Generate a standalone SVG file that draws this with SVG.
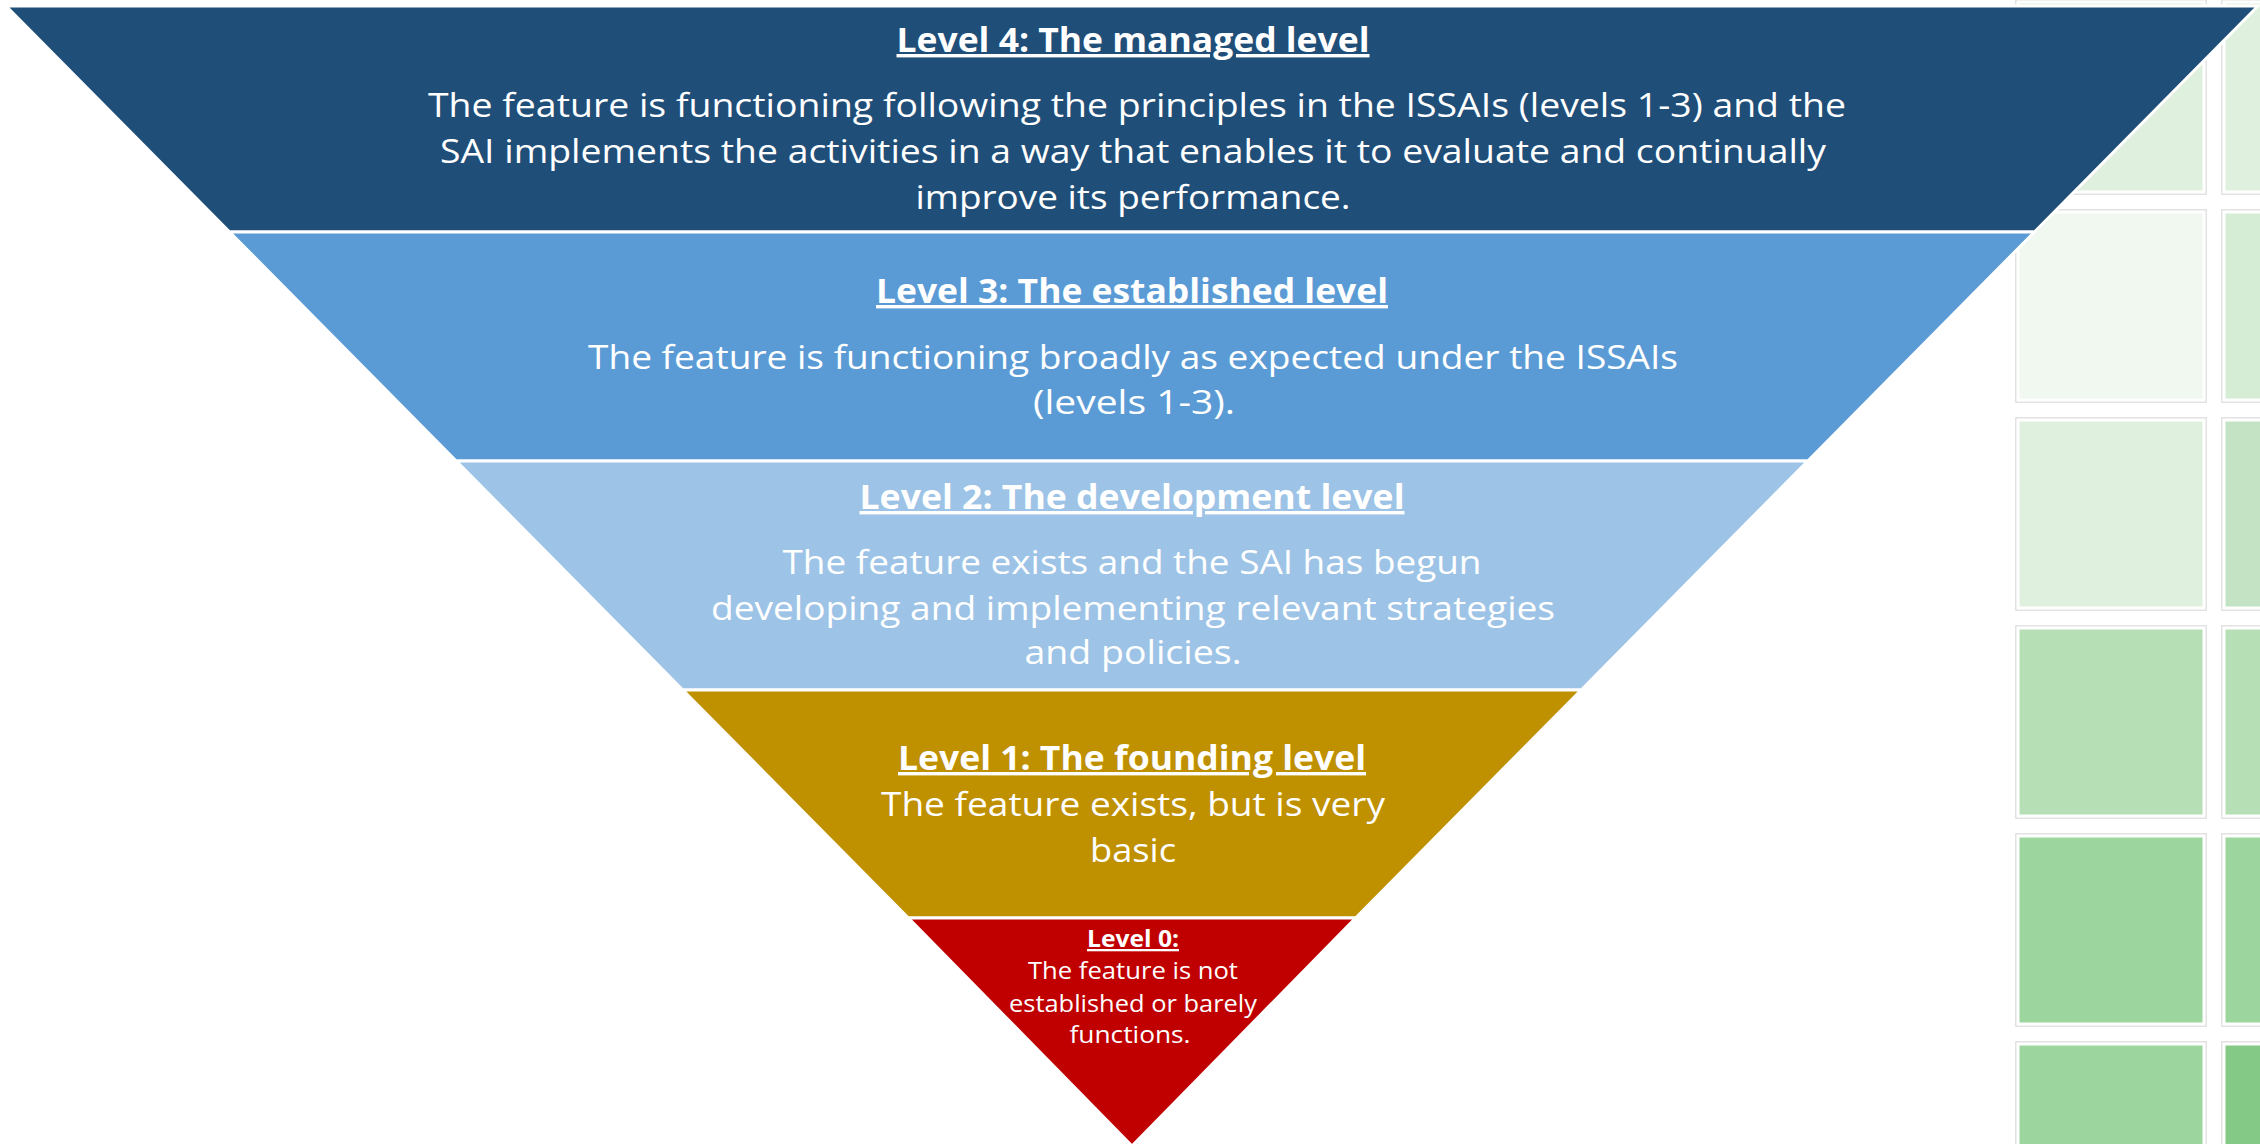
<svg xmlns="http://www.w3.org/2000/svg" width="2260" height="1144" viewBox="0 0 2260 1144">
  <style>
    .band { stroke: #ffffff; stroke-width: 3; stroke-linejoin: miter; }
    .cell { stroke: #ffffff; stroke-width: 3; }
    .cellframe { fill: none; stroke: #d9d9d9; stroke-width: 1.5; }
    .title { font-family: "Open Sans", "Noto Sans", "Liberation Sans", sans-serif; font-weight: bold; font-size: 34px; fill: #ffffff; text-anchor: middle; text-decoration: underline; }
    .body { font-family: "Open Sans", "Noto Sans", "Liberation Sans", sans-serif; font-size: 33px; fill: #ffffff; text-anchor: middle; }
    .title0 { font-family: "Open Sans", "Noto Sans", "Liberation Sans", sans-serif; font-weight: bold; font-size: 23px; fill: #ffffff; text-anchor: middle; text-decoration: underline; }
    .body0 { font-family: "Open Sans", "Noto Sans", "Liberation Sans", sans-serif; font-size: 23px; fill: #ffffff; text-anchor: middle; }
  </style>

  <rect width="2260" height="1144" fill="#ffffff"/>

  <!-- green tile grid on the right, sitting behind the pyramid -->
  <g id="tiles">
    <rect class="cellframe" x="2016" y="0" width="190" height="194"/>
    <rect class="cell" x="2018" y="2" width="186" height="190" fill="#e0f0df"/>
    <rect class="cellframe" x="2222" y="0" width="190" height="194"/>
    <rect class="cell" x="2224" y="2" width="186" height="190" fill="#e0f0df"/>

    <rect class="cellframe" x="2016" y="210" width="190" height="192"/>
    <rect class="cell" x="2018" y="212" width="186" height="188" fill="#f0f8f0"/>
    <rect class="cellframe" x="2222" y="210" width="190" height="192"/>
    <rect class="cell" x="2224" y="212" width="186" height="188" fill="#d5ecd5"/>

    <rect class="cellframe" x="2016" y="418" width="190" height="192"/>
    <rect class="cell" x="2018" y="420" width="186" height="188" fill="#e0f0df"/>
    <rect class="cellframe" x="2222" y="418" width="190" height="192"/>
    <rect class="cell" x="2224" y="420" width="186" height="188" fill="#c3e3c4"/>

    <rect class="cellframe" x="2016" y="626" width="190" height="192"/>
    <rect class="cell" x="2018" y="628" width="186" height="188" fill="#b6dfb6"/>
    <rect class="cellframe" x="2222" y="626" width="190" height="192"/>
    <rect class="cell" x="2224" y="628" width="186" height="188" fill="#b6dfb6"/>

    <rect class="cellframe" x="2016" y="834" width="190" height="192"/>
    <rect class="cell" x="2018" y="836" width="186" height="188" fill="#9dd59e"/>
    <rect class="cellframe" x="2222" y="834" width="190" height="192"/>
    <rect class="cell" x="2224" y="836" width="186" height="188" fill="#9dd59e"/>

    <rect class="cellframe" x="2016" y="1042" width="190" height="192"/>
    <rect class="cell" x="2018" y="1044" width="186" height="188" fill="#9dd59e"/>
    <rect class="cellframe" x="2222" y="1042" width="190" height="192"/>
    <rect class="cell" x="2224" y="1044" width="186" height="188" fill="#85c987"/>
  </g>

  <g id="level4">
    <polygon class="band" points="6,6 2258,6 2034.4,232 229.6,232" fill="#1f4e79"/>
    <text class="title" x="1133" y="52" textLength="473" lengthAdjust="spacingAndGlyphs">Level 4: The managed level</text>
    <text class="body" x="1137" y="117" textLength="1418" lengthAdjust="spacingAndGlyphs">The feature is functioning following the principles in the ISSAIs (levels 1-3) and the</text>
    <text class="body" x="1133" y="163" textLength="1386" lengthAdjust="spacingAndGlyphs">SAI implements the activities in a way that enables it to evaluate and continually</text>
    <text class="body" x="1133" y="209" textLength="435" lengthAdjust="spacingAndGlyphs">improve its performance.</text>
  </g>

  <g id="level3">
    <polygon class="band" points="229.6,232 2034.4,232 1807.8,461 456.2,461" fill="#5b9bd5"/>
    <text class="title" x="1132" y="303" textLength="512" lengthAdjust="spacingAndGlyphs">Level 3: The established level</text>
    <text class="body" x="1133" y="369" textLength="1090" lengthAdjust="spacingAndGlyphs">The feature is functioning broadly as expected under the ISSAIs</text>
    <text class="body" x="1134" y="414" textLength="202" lengthAdjust="spacingAndGlyphs">(levels 1-3).</text>
  </g>

  <g id="level2">
    <polygon class="band" points="456.2,461 1807.8,461 1581.2,690 682.8,690" fill="#9dc3e6"/>
    <text class="title" x="1132" y="509" textLength="545" lengthAdjust="spacingAndGlyphs">Level 2: The development level</text>
    <text class="body" x="1132" y="574" textLength="699" lengthAdjust="spacingAndGlyphs">The feature exists and the SAI has begun</text>
    <text class="body" x="1133" y="620" textLength="844" lengthAdjust="spacingAndGlyphs">developing and implementing relevant strategies</text>
    <text class="body" x="1133" y="664" textLength="217" lengthAdjust="spacingAndGlyphs">and policies.</text>
  </g>

  <g id="level1">
    <polygon class="band" points="682.8,690 1581.2,690 1355.6,918 908.4,918" fill="#bf9000"/>
    <text class="title" x="1132" y="770" textLength="468" lengthAdjust="spacingAndGlyphs">Level 1: The founding level</text>
    <text class="body" x="1133" y="816" textLength="504" lengthAdjust="spacingAndGlyphs">The feature exists, but is very</text>
    <text class="body" x="1133" y="862" textLength="86" lengthAdjust="spacingAndGlyphs">basic</text>
  </g>

  <g id="level0">
    <polygon class="band" points="908.4,918 1355.6,918 1132,1146" fill="#c00000"/>
    <text class="title0" x="1133" y="947" textLength="92" lengthAdjust="spacingAndGlyphs">Level 0:</text>
    <text class="body0" x="1133" y="979" textLength="210" lengthAdjust="spacingAndGlyphs">The feature is not</text>
    <text class="body0" x="1133" y="1012" textLength="248" lengthAdjust="spacingAndGlyphs">established or barely</text>
    <text class="body0" x="1130" y="1043" textLength="121" lengthAdjust="spacingAndGlyphs">functions.</text>
  </g>

  <!-- the pyramid has no connectors -->
  <g id="connectors"/>
</svg>
